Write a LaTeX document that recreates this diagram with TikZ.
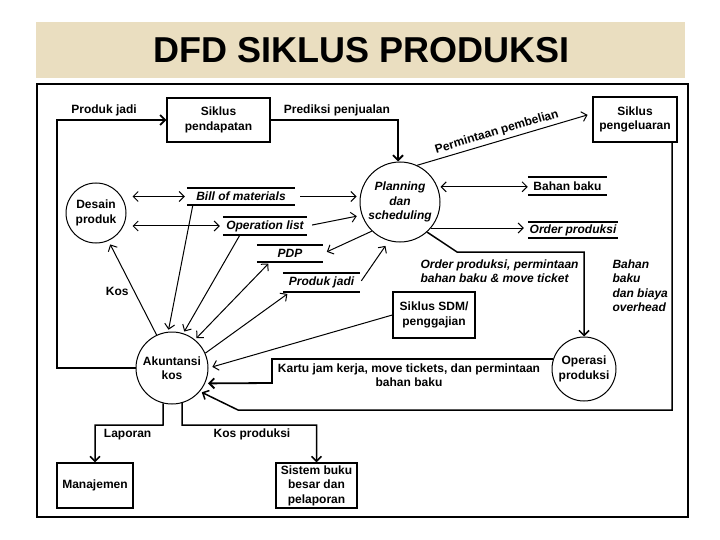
\documentclass[tikz,border=0pt]{standalone}
\usepackage{fontspec}
\setmainfont{Liberation Sans}
\usetikzlibrary{positioning,calc,arrows.meta}

\definecolor{kertas}{RGB}{234,222,192}
\newcommand{\teks}{\fontsize{12}{14.5}\selectfont\bfseries}

\tikzset{
  proses/.style={circle, draw, line width=1pt, inner sep=0pt, align=center},
  entitas/.style={rectangle, draw, line width=1.3pt, inner sep=0pt, align=center},
  simpanan/.style={inner sep=0pt, font=\teks\itshape,
    append after command={
      (\tikzlastnode.north west) edge[line width=2pt] (\tikzlastnode.north east)
      (\tikzlastnode.south west) edge[line width=2pt] (\tikzlastnode.south east)}},
  alir/.style={-{Straight Barb[length=5pt,width=10pt]}, line width=1pt},
  duaalir/.style={{Straight Barb[length=5pt,width=10pt]}-{Straight Barb[length=5pt,width=10pt]},
    line width=1pt},
  tebal/.style={line width=1.8pt},
}

\begin{document}
\begin{tikzpicture}[x=1pt, y=-1pt, font=\teks]
   \useasboundingbox (0,0) rectangle (720,540);

   % judul
   \fill[kertas] (36,22) rectangle (685,78);
   \node[font=\fontsize{36}{40}\selectfont\bfseries] (judul) at (362,50) {DFD SIKLUS PRODUKSI};
   \draw[line width=1.5pt] (37,84) rectangle (688,517);

   % proses
   \node[proses, minimum size=80pt, font=\teks\itshape] (planning) at (400,202)
      {Planning\\dan\\scheduling};
   \node[proses, minimum size=60pt] (desain)    at (96,213)  {Desain\\produk};
   \node[proses, minimum size=72pt] (akuntansi) at (172,368) {Akuntansi\\kos};
   \node[proses, minimum size=64pt] (operasi)   at (584,369) {Operasi\\produksi};

   % entitas luar
   \node[entitas, minimum width=103pt, minimum height=44pt] (pendapatan)  at (218.5,120)
      {Siklus\\pendapatan};
   \node[entitas, minimum width=84pt, minimum height=45pt]  (pengeluaran) at (635,119.5)
      {Siklus\\pengeluaran};
   \node[entitas, minimum width=82pt, minimum height=46pt]  (sdm)         at (434,315)
      {Siklus SDM/\\penggajian};
   \node[entitas, minimum width=76pt, minimum height=45pt]  (manajemen)   at (95,485.5)
      {Manajemen};
   \node[entitas, minimum width=81pt, minimum height=45pt]  (sistem)      at (316.5,485.5)
      {Sistem buku\\besar dan\\pelaporan};

   % simpanan data
   \node[simpanan, minimum width=108pt, minimum height=17pt] (bom)    at (241,196.5) {Bill of materials};
   \node[simpanan, minimum width=84pt, minimum height=18pt]  (oplist) at (265,226)   {Operation list};
   \node[simpanan, minimum width=66pt, minimum height=17pt]  (pdp)    at (290,253.5) {PDP};
   \node[simpanan, minimum width=77pt, minimum height=19pt]  (pjadi)  at (321.5,282.5) {Produk jadi};
   \node[simpanan, minimum width=79pt, minimum height=18pt, font=\teks] (bbaku) at (567.5,186) {Bahan baku};
   \node[simpanan, minimum width=90pt, minimum height=16pt]  (order)  at (573,230)   {Order produksi};

   % titik belok
   \coordinate (kiri)     at (57,120);
   \coordinate (kartu)    at (272,383);
   \coordinate (ordbelok) at (457,252);
   \coordinate (ohkanan)  at (672,410);
   \coordinate (ohbelok)  at (238,410);
   \coordinate (lapbelok) at (163,425);
   \coordinate (kosbelok) at (182,425);

   % alur atas
   \draw[alir, tebal] (akuntansi.west) -| (kiri)
      -- node[above, pos=0.43] (kProduk) {Produk jadi} (pendapatan.west);
   \draw[alir, tebal] (pendapatan.east)
      -| node[above, pos=0.26] (kPrediksi) {Prediksi penjualan} ([xshift=-2pt]planning.north);
   \draw[alir, shorten >=5pt] (planning.65)
      -- node[above=2pt, sloped, inner sep=1pt, pos=0.47] (kBeli) {Permintaan pembelian}
      ([yshift=6pt]pengeluaran.west);

   % desain produk dan planning
   \draw[duaalir, shorten <=6pt, shorten >=2pt] (desain.east |- bom) -- (bom.west);
   \draw[duaalir, shorten <=6pt, shorten >=3pt] (desain.east |- oplist) -- (oplist.west);
   \draw[alir, shorten <=5pt, shorten >=3pt] (bom.east) -- (bom.east -| planning.west);
   \draw[alir, shorten <=5pt, shorten >=5pt] (oplist.east) -- (planning.199);
   \draw[alir, shorten >=4pt] (planning.226) -- (pdp.east);
   \draw[alir, shorten <=2pt, shorten >=6pt] (pjadi.east) -- (planning.254);
   \draw[duaalir, shorten <=3pt] (planning.22) -- (planning.22 -| bbaku.west);
   \draw[alir, shorten >=4pt] (planning.-40) -- (planning.-40 -| order.west);

   % ke akuntansi kos
   \draw[alir, shorten >=4pt] (akuntansi.115)
      -- node[pos=0.46, left=2pt] (kKos) {Kos} (desain.-66);
   \draw[alir, shorten >=2pt] ([xshift=6pt]bom.south west) -- (akuntansi.96);
   \draw[alir, shorten >=2pt] ([xshift=17pt]oplist.south west) -- (akuntansi.72);
   \draw[duaalir, shorten <=2pt, shorten >=2pt] ([xshift=13pt]pdp.south west) -- (akuntansi.51);
   \draw[alir, shorten >=3pt] (akuntansi.24) -- ([xshift=7pt]pjadi.south west);
   \draw[alir, shorten >=4pt] (sdm.west) -- (akuntansi.east);

   % operasi produksi
   \draw[alir, line width=1.5pt] (planning.-48) -- (ordbelok) -| (operasi.north);
   \node[anchor=north west, align=left, font=\teks\itshape] (kOrder) at (417,256)
      {Order produksi, permintaan\\bahan baku \& move ticket};
   \draw[alir, tebal, shorten >=3pt] (operasi.162) -| (kartu) -- (akuntansi.-25);
   \node[align=center] (kKartu) at (409,375)
      {Kartu jam kerja, move tickets, dan permintaan\\bahan baku};
   \draw[alir, line width=1.5pt, shorten >=2pt] (pengeluaran.south -| ohkanan) -- (ohkanan)
      -- (ohbelok) -- (akuntansi.-40);
   \node[anchor=north west, align=left, font=\teks\itshape] (kOverhead) at (609,256)
      {Bahan\\baku\\dan biaya\\overhead};

   % keluaran
   \draw[alir, line width=1.5pt] (akuntansi.-104) -- (lapbelok)
      -| node[below, pos=0.26] (kLaporan) {Laporan} (manajemen.north);
   \draw[alir, line width=1.5pt] (akuntansi.-74) -- (kosbelok)
      -| node[below, pos=0.26] (kKosProd) {Kos produksi} (sistem.north);
\end{tikzpicture}
\end{document}
